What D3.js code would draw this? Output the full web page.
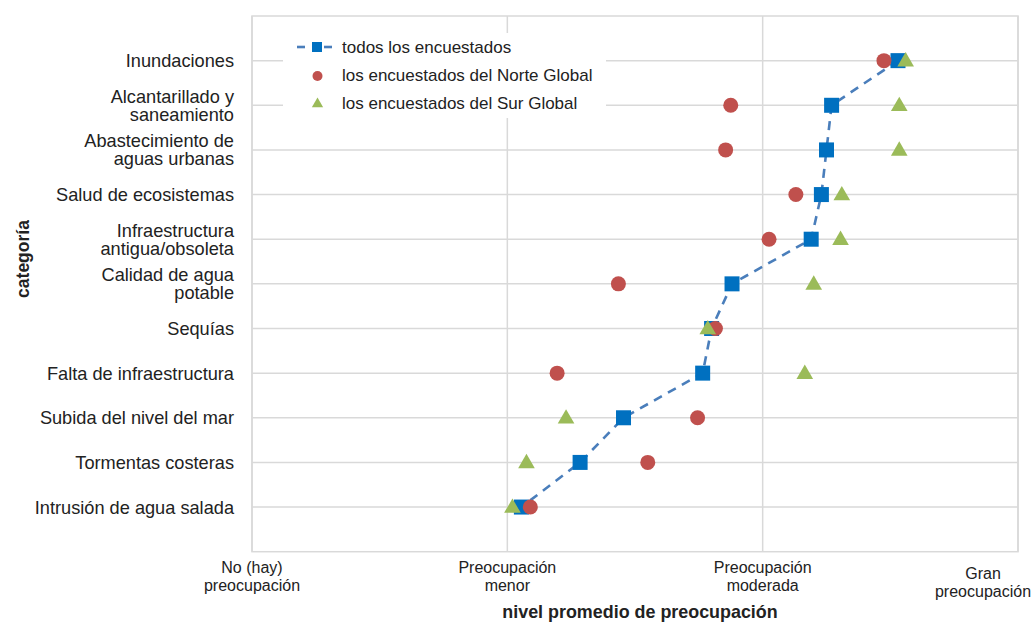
<!DOCTYPE html>
<html><head><meta charset="utf-8">
<script src="https://cdn.jsdelivr.net/npm/d3@7"></script>
<style>
body{margin:0;background:#fff;}
svg{display:block;font-family:"Liberation Sans",Arial,sans-serif;}
</style></head>
<body>
<svg id="chart" width="1035" height="622"></svg>
<script>
const categories = [
  ["Inundaciones"],
  ["Alcantarillado y","saneamiento"],
  ["Abastecimiento de","aguas urbanas"],
  ["Salud de ecosistemas"],
  ["Infraestructura","antigua/obsoleta"],
  ["Calidad de agua","potable"],
  ["Sequías"],
  ["Falta de infraestructura"],
  ["Subida del nivel del mar"],
  ["Tormentas costeras"],
  ["Intrusión de agua salada"]
];
const todos = [2.53, 2.27, 2.25, 2.23, 2.19, 1.88, 1.80, 1.765, 1.455, 1.285, 1.055];
const norte = [2.475, 1.875, 1.855, 2.13, 2.025, 1.435, 1.815, 1.195, 1.745, 1.55, 1.09];
const sur   = [2.56, 2.535, 2.535, 2.31, 2.305, 2.20, 1.785, 2.165, 1.23, 1.075, 1.02];
const tickValues = [0,1,2,3];
const tickLabels = [["No (hay)","preocupación"],["Preocupación","menor"],["Preocupación","moderada"],["Gran","preocupación"]];
const seriesNames = ["todos los encuestados","los encuestados del Norte Global","los encuestados del Sur Global"];

const svg = d3.select("#chart");
const L=252, R=1018, T=16, B=551.7;
const x = d3.scaleLinear().domain([0,3]).range([L,R]);
const keys = categories.map(c=>c.join(" "));
const y = d3.scalePoint().domain(keys).range([T,B]).padding(1);
const grid="#d9d9d9", txt="#222";

// gridlines
svg.append("g").selectAll("line").data(tickValues).join("line")
  .attr("x1",d=>x(d)).attr("x2",d=>x(d)).attr("y1",T).attr("y2",B)
  .attr("stroke",grid).attr("stroke-width",1.5);
svg.append("g").selectAll("line").data(keys).join("line")
  .attr("x1",L).attr("x2",R).attr("y1",d=>y(d)).attr("y2",d=>y(d))
  .attr("stroke",grid).attr("stroke-width",1.5);
svg.append("rect").attr("x",L).attr("y",T).attr("width",R-L).attr("height",B-T)
  .attr("fill","none").attr("stroke",grid).attr("stroke-width",1.5);

// category labels
const catG = svg.append("g").attr("font-size",18.2).attr("fill",txt).attr("text-anchor","end");
categories.forEach((c,i)=>{
  const cy = y(keys[i]);
  const lh = 18;
  const t = catG.append("text");
  const y0 = cy + 6.5 - (c.length-1)*lh/2;
  c.forEach((line,j)=>{
    t.append("tspan").attr("x",234).attr("y", y0 + j*lh).text(line);
  });
});

// x tick labels
const tkG = svg.append("g").attr("font-size",16).attr("fill",txt).attr("text-anchor","middle");
tickLabels.forEach((lab,i)=>{
  let cx = x(tickValues[i]), yy = 573;
  if(i===3){ cx = 983; yy = 579; }
  lab.forEach((line,j)=>{
    tkG.append("text").attr("x",cx).attr("y",yy+j*17.5).text(line);
  });
});

// axis titles
svg.append("text").attr("x",640).attr("y",618).attr("text-anchor","middle")
  .attr("font-size",17.9).attr("font-weight","bold").attr("fill",txt).text("nivel promedio de preocupación");
svg.append("text").attr("transform","translate(29,259) rotate(-90)").attr("text-anchor","middle")
  .attr("font-size",17.5).attr("font-weight","bold").attr("fill",txt).text("categoría");

// line
const blue="#0070c0", lineCol="#4a7ebb", red="#c0504d", green="#9bbb59";
const line = d3.line().x(d=>x(d[0])).y(d=>y(d[1]));
svg.append("path").datum(todos.map((v,i)=>[v,keys[i]])).attr("d",line)
  .attr("fill","none").attr("stroke",lineCol).attr("stroke-width",2.6).attr("stroke-dasharray","9,7");

const sq=15;
svg.append("g").selectAll("rect").data(todos).join("rect")
  .attr("x",(d)=>x(d)-sq/2).attr("y",(d,i)=>y(keys[i])-sq/2).attr("width",sq).attr("height",sq).attr("fill",blue);
svg.append("g").selectAll("circle").data(norte).join("circle")
  .attr("cx",d=>x(d)).attr("cy",(d,i)=>y(keys[i])).attr("r",7.5).attr("fill",red);
const tri = d3.symbol().type(d3.symbolTriangle).size(120);
svg.append("g").selectAll("path").data(sur).join("path")
  .attr("d",tri).attr("transform",(d,i)=>`translate(${x(d)},${y(keys[i])+1})`).attr("fill",green);

// legend
const lg = svg.append("g");
lg.append("rect").attr("x",283).attr("y",33).attr("width",323).attr("height",85).attr("fill","#fff");
const ly=[47,75,103];
lg.append("line").attr("x1",297).attr("x2",305).attr("y1",ly[0]).attr("y2",ly[0]).attr("stroke",lineCol).attr("stroke-width",2.6);
lg.append("line").attr("x1",324).attr("x2",332).attr("y1",ly[0]).attr("y2",ly[0]).attr("stroke",lineCol).attr("stroke-width",2.6);
lg.append("rect").attr("x",312).attr("y",ly[0]-5).attr("width",10).attr("height",10).attr("fill",blue);
lg.append("circle").attr("cx",317.5).attr("cy",ly[1]+1).attr("r",5).attr("fill",red);
lg.append("path").attr("d",d3.symbol().type(d3.symbolTriangle).size(55)).attr("transform",`translate(317.5,${ly[2]+1})`).attr("fill",green);
lg.selectAll("text.l").data(seriesNames).join("text").attr("class","l")
  .attr("x",342).attr("y",(d,i)=>ly[i]+6).attr("font-size",17).attr("fill",txt).text(d=>d);
</script>
</body></html>
